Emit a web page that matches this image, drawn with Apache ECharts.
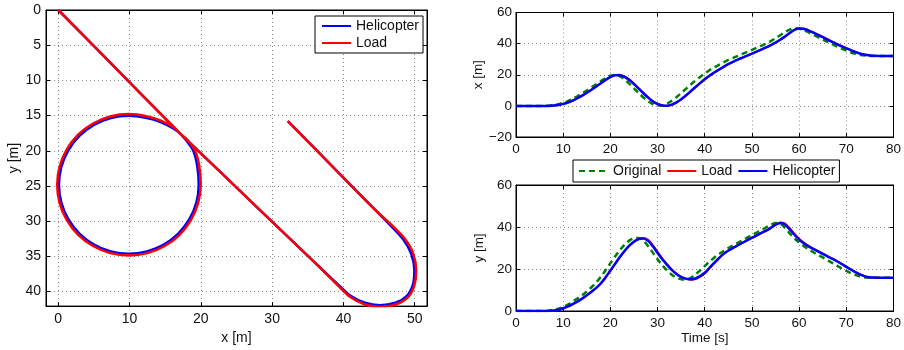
<!DOCTYPE html>
<html><head><meta charset="utf-8">
<script src="https://cdn.jsdelivr.net/npm/echarts@6/dist/echarts.min.js"></script>
<style>html,body{margin:0;padding:0;background:#fff}#c{width:904px;height:350px}</style>
</head><body><div id="c"></div>
<script>
// ---------- data ----------
const time = [0,1,2,3,4,5,6,7,8,9,10,11,12,13,14,15,16,17,18,19,20,21,22,23,24,25,26,27,28,29,30,31,32,33,34,35,36,37,38,39,40,41,42,43,44,45,46,47,48,49,50,51,52,53,54,55,56,57,58,59,60,61,62,63,64,65,66,67,68,69,70,71,72,73,74,75,76,77,78,79,80];

const origX = [0,0,0,0,0,0,0,0.2,0.5,1.1,1.9,3.0,4.5,6.2,8.0,9.9,11.9,13.9,15.9,17.9,19.4,19.9,19.0,17.0,14.3,11.3,8.3,5.4,3.0,1.2,0.2,0.3,1.4,3.3,5.6,8.2,10.9,13.6,16.2,18.6,20.8,22.9,24.7,26.4,28.0,29.5,30.8,32.1,33.4,34.7,36.0,37.3,38.6,40.0,41.6,43.4,45.4,47.4,49.0,49.9,49.6,48.6,47.2,45.7,44.2,42.7,41.2,39.7,38.2,36.8,35.5,34.3,33.4,32.7,32.3,32.1,32.0,32.0,32.0,32.0,32.0];
const loadX = [0,0,0,0,0,0,0,0,0.2,0.6,1.3,2.2,3.3,4.8,6.5,8.3,10.3,12.4,14.5,16.6,18.5,19.8,20.0,19.0,17.0,14.4,11.4,8.4,5.5,3.0,1.2,0.2,0.0,0.6,2.1,4.1,6.5,9.1,11.8,14.5,17.0,19.3,21.4,23.3,25.1,26.8,28.3,29.7,31.0,32.3,33.6,34.9,36.2,37.5,39.0,40.6,42.4,44.5,46.8,48.9,49.9,49.7,48.7,47.3,45.8,44.3,42.8,41.3,39.9,38.5,37.1,35.8,34.6,33.6,32.8,32.3,32.1,32.0,32.0,32.0,32.0];
const heliX = [0,0,0,0,0,0,0,0,0.2,0.6,1.3,2.2,3.4,4.9,6.6,8.4,10.4,12.5,14.6,16.7,18.5,19.7,19.7,18.6,16.6,14.0,11.1,8.1,5.3,2.9,1.2,0.3,0.1,0.8,2.3,4.3,6.7,9.3,12.0,14.6,17.1,19.4,21.4,23.3,25.1,26.8,28.3,29.7,31.0,32.3,33.6,34.9,36.2,37.6,39.1,40.7,42.5,44.6,46.8,48.8,49.7,49.4,48.4,47.1,45.6,44.1,42.6,41.1,39.7,38.3,37.0,35.7,34.5,33.5,32.8,32.4,32.2,32.1,32.1,32.1,32.1];

const origY = [0,0,0,0,0,0,0,0.2,0.6,1.1,1.9,3.1,4.5,5.9,7.5,9.3,11.3,13.6,16.3,19.5,22.8,26.0,28.9,31.5,33.5,34.6,34.8,33.6,30.9,27.8,24.6,21.8,19.3,17.3,15.9,15.1,15.0,15.8,17.3,19.3,21.4,23.5,25.4,27.1,28.6,30.0,31.3,32.5,33.7,34.9,36.1,37.3,38.5,39.8,41.0,41.9,41.6,39.6,37.0,34.6,32.6,30.9,29.4,28.0,26.7,25.5,24.2,22.9,21.6,20.3,19.1,18.0,17.1,16.4,16.0,15.8,15.8,15.8,15.8,15.8,15.8];
const loadY = [0,0,0,0,0,0,0,0,0.2,0.5,1.2,2.1,3.2,4.4,5.8,7.4,9.1,10.9,13.0,15.9,19.1,22.3,25.5,28.5,31.1,33.1,34.4,34.8,33.9,31.4,28.2,25.1,22.3,19.8,17.7,16.2,15.3,14.9,15.2,16.3,17.9,20.3,22.7,25.0,27.1,28.7,30.0,31.2,32.4,33.6,34.8,35.9,37.1,38.2,39.5,41.0,42.1,41.7,39.5,36.8,34.4,32.6,31.0,29.7,28.5,27.3,26.1,25.0,23.8,22.5,21.1,19.8,18.5,17.3,16.5,16.0,15.8,15.7,15.7,15.7,15.7];
const heliY = [0,0,0,0,0,0,0,0,0.2,0.6,1.3,2.2,3.3,4.5,5.9,7.5,9.2,11.0,13.2,16.1,19.3,22.5,25.7,28.6,31.1,33.0,34.2,34.5,33.4,30.8,27.6,24.6,22.0,19.6,17.6,16.2,15.4,15.1,15.5,16.6,18.2,20.6,22.9,25.2,27.2,28.8,30.1,31.3,32.5,33.7,34.9,36.0,37.2,38.3,39.6,41.1,41.9,41.2,38.9,36.3,34.0,32.3,30.8,29.6,28.4,27.2,26.0,24.9,23.7,22.4,21.0,19.7,18.4,17.3,16.5,16.1,15.9,15.8,15.8,15.8,15.8];

// x-y trajectory (left panel)
const trajHeliX = [0,8.6,15.2,17.17,17.9,18.94,19.5,19.7,19.37,18.39,16.83,14.8,12.44,9.9,7.36,5.0,2.97,1.41,0.43,0.1,0.43,1.41,2.97,5.0,7.36,9.9,12.44,14.26,16.13,17.17,19.2,28.0,36.0,38.4,39.6,41.0,43.0,45.1,47.3,48.9,49.75,49.95,49.5,48.4,46.6,44.5,39.4,32.2];
const trajHeliY = [0,8.83,15.61,17.63,18.47,20.0,22.2,24.83,27.37,29.73,31.76,33.32,34.3,34.63,34.3,33.32,31.76,29.73,27.37,24.83,22.29,19.93,17.9,16.34,15.36,15.03,15.36,15.9,16.83,17.63,19.59,28.14,35.9,38.2,39.35,40.6,41.6,41.95,41.6,40.6,39.0,37.0,34.6,32.6,30.6,28.45,23.2,15.8];
const trajLoadX = [0,8.6,15.2,17.17,18.1,19.2,19.78,19.98,19.61,18.6,17.01,14.93,12.5,9.9,7.3,4.88,2.79,1.2,0.19,-0.15,0.19,1.2,2.79,4.88,7.3,9.9,12.5,14.3,16.15,17.17,19.2,28.0,36.0,38.3,39.5,40.9,43.0,45.1,47.4,49.1,49.95,50.2,49.75,48.6,46.7,44.5,39.4,32.2];
const trajLoadY = [0,8.83,15.61,17.63,18.45,20.0,22.2,24.83,27.43,29.86,31.94,33.53,34.54,34.88,34.54,33.53,31.94,29.86,27.43,24.83,22.23,19.8,17.72,16.13,15.12,14.78,15.12,15.68,16.65,17.63,19.59,28.14,35.9,38.2,39.4,40.75,41.85,42.2,41.8,40.75,39.1,37.0,34.5,32.5,30.5,28.45,23.2,15.8];

// tick labels
const leftXTicks = [0,10,20,30,40,50];
const leftYTicks = [0,5,10,15,20,25,30,35,40];
const timeTicks = [0,10,20,30,40,50,60,70,80];
const xPosTicks = [-20,0,20,40,60];
const yPosTicks = [0,20,40,60];

// ---------- chart ----------
const FONT = 'Liberation Sans';
const TXT = '#111';
const zip = (a, b) => a.map((v, i) => [v, b[i]]);
const split = {show: true, lineStyle: {color: '#8a8a8a', width: 1, type: [1, 3]}};
const minus = v => String(v).replace('-', '\u2212');

function mainAxis(o) {
  return Object.assign({
    type: 'value', scale: false,
    axisLine: {show: true, onZero: false, lineStyle: {color: '#000', width: 1}},
    axisTick: {show: true, inside: true, length: 4, lineStyle: {color: '#000'}},
    axisLabel: {color: TXT, fontFamily: FONT, fontSize: 13.5, formatter: minus},
    splitLine: split,
    nameTextStyle: {color: TXT, fontFamily: FONT, fontSize: 13.5},
    nameLocation: 'middle'
  }, o);
}
function dupAxis(o) {
  return Object.assign({
    type: 'value',
    axisLine: {show: true, onZero: false, lineStyle: {color: '#000', width: 1}},
    axisTick: {show: true, inside: true, length: 4, lineStyle: {color: '#000'}},
    axisLabel: {show: false},
    splitLine: {show: false}
  }, o);
}

const chart = echarts.init(document.getElementById('c'), null, {renderer: 'canvas'});
const LX = {min: -1.72, max: 51.72};
const LY = {min: 0, max: 42.07, inverse: true};

const option = {
  animation: false,
  backgroundColor: '#fff',
  grid: [
    {left: 46, top: 10, width: 381, height: 300, show: true, borderColor: '#000', borderWidth: 1, backgroundColor: '#fff'},
    {left: 516, top: 12.5, width: 381, height: 124.5, show: true, borderColor: '#000', borderWidth: 1, backgroundColor: '#fff'},
    {left: 516, top: 185, width: 381, height: 126, show: true, borderColor: '#000', borderWidth: 1, backgroundColor: '#fff'}
  ],
  xAxis: [
    mainAxis(Object.assign({gridIndex: 0, position: 'bottom', name: 'x [m]', nameGap: 20,
      axisLabel: {color: TXT, fontFamily: FONT, fontSize: 14, margin: 6, customValues: leftXTicks},
      axisTick: {show: true, inside: true, length: 4, lineStyle: {color: '#000'}, customValues: leftXTicks},
      nameTextStyle: {color: TXT, fontFamily: FONT, fontSize: 14}}, LX)),
    dupAxis(Object.assign({gridIndex: 0, position: 'top',
      axisTick: {show: true, inside: true, length: 4, lineStyle: {color: '#000'}, customValues: leftXTicks}}, LX)),
    mainAxis({gridIndex: 1, position: 'bottom', min: 0, max: 80, interval: 10,
      axisLabel: {color: TXT, fontFamily: FONT, fontSize: 13.5, margin: 5}}),
    dupAxis({gridIndex: 1, position: 'top', min: 0, max: 80, interval: 10}),
    mainAxis({gridIndex: 2, position: 'bottom', min: 0, max: 80, interval: 10, name: 'Time [s]', nameGap: 19,
      axisLabel: {color: TXT, fontFamily: FONT, fontSize: 13.5, margin: 5}}),
    dupAxis({gridIndex: 2, position: 'top', min: 0, max: 80, interval: 10})
  ],
  yAxis: [
    mainAxis(Object.assign({gridIndex: 0, position: 'left', name: 'y [m]', nameGap: 21,
      axisLabel: {color: TXT, fontFamily: FONT, fontSize: 14, margin: 5, customValues: leftYTicks},
      axisTick: {show: true, inside: true, length: 4, lineStyle: {color: '#000'}, customValues: leftYTicks},
      nameTextStyle: {color: TXT, fontFamily: FONT, fontSize: 14}}, LY)),
    dupAxis(Object.assign({gridIndex: 0, position: 'right',
      axisTick: {show: true, inside: true, length: 4, lineStyle: {color: '#000'}, customValues: leftYTicks}}, LY)),
    mainAxis({gridIndex: 1, position: 'left', min: -20, max: 60, interval: 20, name: 'x [m]', nameGap: 30,
      axisLabel: {color: TXT, fontFamily: FONT, fontSize: 13.5, margin: 4, formatter: minus}}),
    dupAxis({gridIndex: 1, position: 'right', min: -20, max: 60, interval: 20}),
    mainAxis({gridIndex: 2, position: 'left', min: 0, max: 60, interval: 20, name: 'y [m]', nameGap: 30,
      axisLabel: {color: TXT, fontFamily: FONT, fontSize: 13.5, margin: 4}}),
    dupAxis({gridIndex: 2, position: 'right', min: 0, max: 60, interval: 20})
  ],
  legend: [
    {left: 315, top: 16, orient: 'vertical', itemGap: 3, itemWidth: 29, itemHeight: 14,
     padding: [3, 4, 3, 6], backgroundColor: '#fff', borderColor: '#000', borderWidth: 1,
     itemStyle: {opacity: 0, borderWidth: 0},
     textStyle: {color: TXT, fontFamily: FONT, fontSize: 14}, data: ['Helicopter', 'Load'], selectedMode: false},
    {left: 573, top: 160, orient: 'horizontal', itemGap: 5, itemWidth: 29, itemHeight: 14,
     padding: [4, 4, 4, 5], backgroundColor: '#fff', borderColor: '#000', borderWidth: 1,
     itemStyle: {opacity: 0, borderWidth: 0},
     textStyle: {color: TXT, fontFamily: FONT, fontSize: 14}, data: ['Original', 'Load', 'Helicopter'], selectedMode: false}
  ],
  series: [
    {name: 'Helicopter', type: 'line', xAxisIndex: 0, yAxisIndex: 0, data: zip(trajHeliX, trajHeliY),
     symbol: 'none', smooth: 0.3, color: '#0000ff', lineStyle: {color: '#0000ff', width: 2.5}, z: 3},
    {name: 'Load', type: 'line', xAxisIndex: 0, yAxisIndex: 0, data: zip(trajLoadX, trajLoadY),
     symbol: 'none', smooth: 0.3, color: '#ff0000', lineStyle: {color: '#ff0000', width: 2.5}, z: 4},

    {name: 'Original', type: 'line', xAxisIndex: 2, yAxisIndex: 2, data: zip(time, origX),
     symbol: 'none', smooth: 0.3, color: '#008000', lineStyle: {color: '#008000', width: 2.5, type: [6, 4]}, z: 3},
    {name: 'Load', type: 'line', xAxisIndex: 2, yAxisIndex: 2, data: zip(time, loadX),
     symbol: 'none', smooth: 0.3, color: '#ff0000', lineStyle: {color: '#ff0000', width: 2}, z: 4},
    {name: 'Helicopter', type: 'line', xAxisIndex: 2, yAxisIndex: 2, data: zip(time, heliX),
     symbol: 'none', smooth: 0.3, color: '#0000ff', lineStyle: {color: '#0000ff', width: 2.5}, z: 5},

    {name: 'Original', type: 'line', xAxisIndex: 4, yAxisIndex: 4, data: zip(time, origY),
     symbol: 'none', smooth: 0.3, color: '#008000', lineStyle: {color: '#008000', width: 2.5, type: [6, 4]}, z: 3},
    {name: 'Load', type: 'line', xAxisIndex: 4, yAxisIndex: 4, data: zip(time, loadY),
     symbol: 'none', smooth: 0.3, color: '#ff0000', lineStyle: {color: '#ff0000', width: 2}, z: 4},
    {name: 'Helicopter', type: 'line', xAxisIndex: 4, yAxisIndex: 4, data: zip(time, heliY),
     symbol: 'none', smooth: 0.3, color: '#0000ff', lineStyle: {color: '#0000ff', width: 2.5}, z: 5}
  ]
};
chart.setOption(option);
</script>
</body></html>
